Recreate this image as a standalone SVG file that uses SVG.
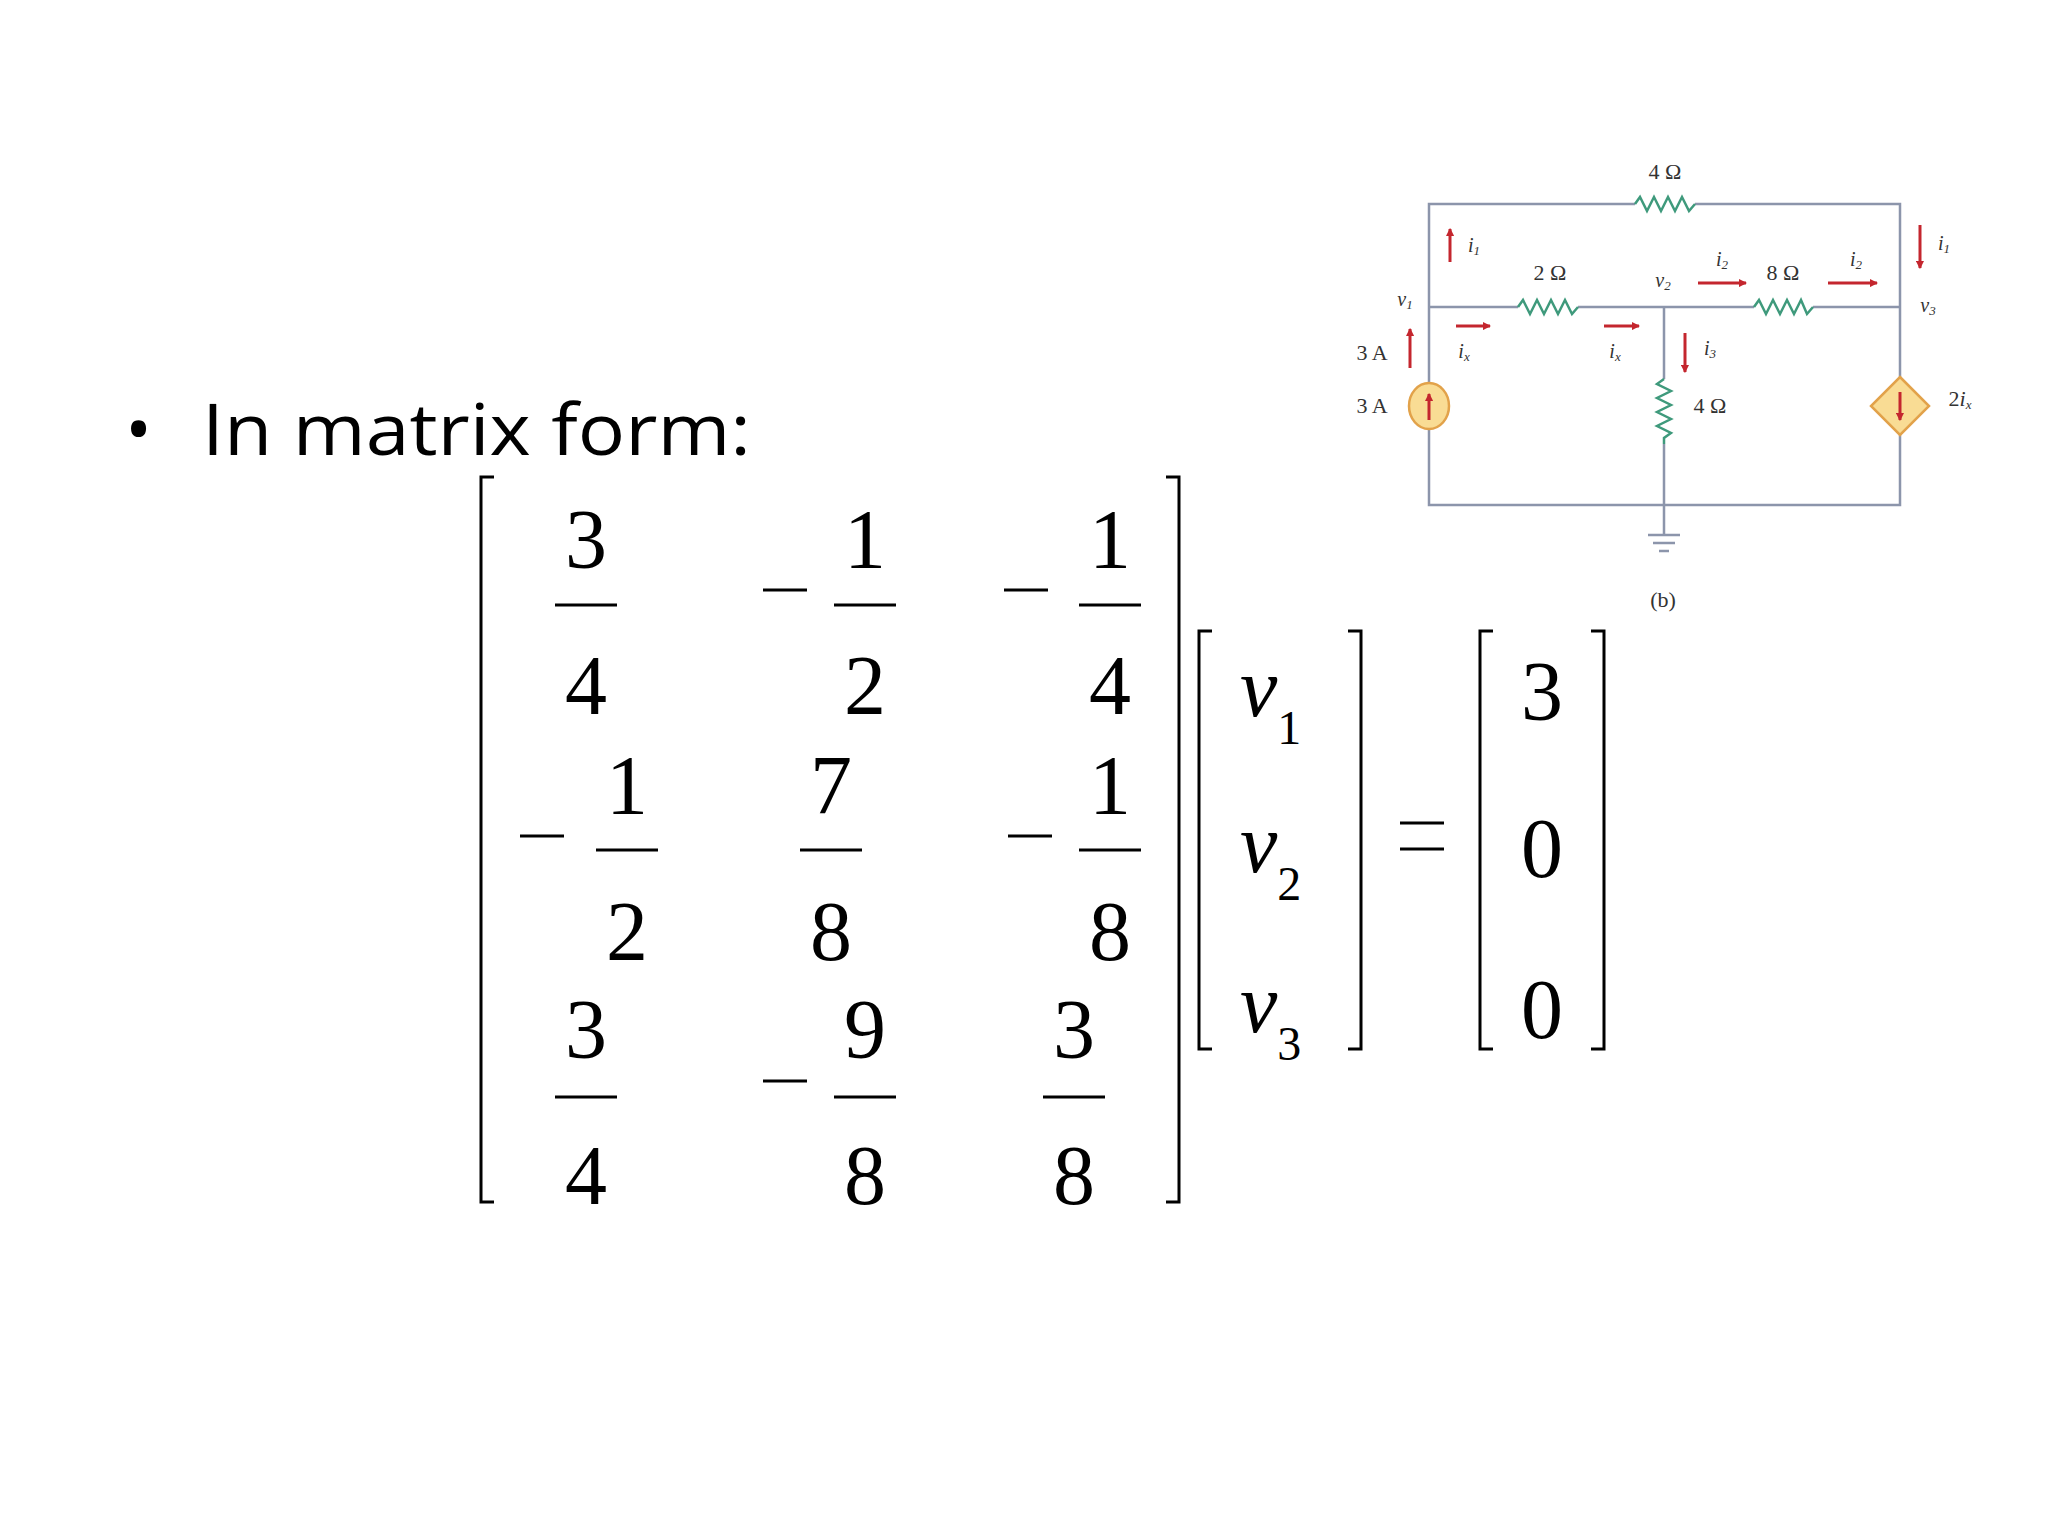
<svg xmlns="http://www.w3.org/2000/svg" width="2048" height="1536" viewBox="0 0 2048 1536">
<style>
.w{fill:none;stroke:#8c95ab;stroke-width:2.5}
.r{fill:none;stroke:#3f9a7c;stroke-width:2.5}
.a{stroke:#c4262e;stroke-width:3}
.cl{font-family:"Liberation Serif",serif;font-size:22px;fill:#333;text-anchor:middle}
.ci{font-family:"Liberation Serif",serif;font-style:italic;font-size:20px;fill:#333;text-anchor:middle}
.m{font-family:"Liberation Serif",serif;font-size:84px;fill:#000;text-anchor:middle}
.v{font-family:"Liberation Serif",serif;font-style:italic;font-size:84px;fill:#000}
.s{font-family:"Liberation Serif",serif;font-size:48px;fill:#000}
.b{fill:none;stroke:#000;stroke-width:3}
.bar{stroke:#000;stroke-width:3}
</style>
<defs>
<marker id="ah" markerWidth="8" markerHeight="8" refX="7" refY="4" orient="auto" markerUnits="userSpaceOnUse"><path d="M0,0 L8,4 L0,8 Z" fill="#c4262e" transform="scale(1.5) translate(-2.6,-1.3)"/></marker>
</defs>
<rect width="2048" height="1536" fill="#fff"/>
<g id="title">
<text x="125" y="455" font-family="'Open Sans',sans-serif" font-size="72" fill="#000">•</text>
<text x="202" y="455" font-family="'Open Sans',sans-serif" font-size="72" fill="#000" textLength="549" lengthAdjust="spacingAndGlyphs">In matrix form:</text>
</g>
<g id="circuit">
<g id="wires">
<path class="w" d="M1429,383 V204 H1635 M1695,204 H1900 V377 M1429,307 H1518 M1578,307 H1754 M1813,307 H1900 M1664,307 V379 M1664,444 V535 M1429,429 V505 H1900 V435"/>
<path class="w" d="M1648,535 H1680 M1653,543 H1675 M1659,551 H1669"/>
</g>
<g id="resistors">
<path class="r" d="M1635,204 l5,-7 l7,14 l7,-14 l7,14 l7,-14 l7,14 l7,-14 l7,14 l6,-7"/>
<path class="r" d="M1518,307 l5,-7 l7,14 l7,-14 l7,14 l7,-14 l7,14 l7,-14 l7,14 l6,-7"/>
<path class="r" d="M1754,307 l5,-7 l7,14 l7,-14 l7,14 l7,-14 l7,14 l7,-14 l6,14 l6,-7"/>
<path class="r" d="M1664,379 l-7,5 l14,7 l-14,7 l14,7 l-14,7 l14,7 l-14,7 l14,7 l-7,5 v6"/>
</g>
<g id="sources">
<ellipse cx="1429" cy="406" rx="20" ry="23" fill="#f9dc94" stroke="#e2a24a" stroke-width="2.5"/>
<line class="a" x1="1429" y1="420" x2="1429" y2="394" marker-end="url(#ah)"/>
<path d="M1900,377 L1929,406 L1900,435 L1871,406 Z" fill="#f9dc94" stroke="#e2a24a" stroke-width="2.5"/>
<line class="a" x1="1900" y1="392" x2="1900" y2="420" marker-end="url(#ah)"/>
</g>
<g id="arrows">
<line class="a" x1="1450" y1="262" x2="1450" y2="229" marker-end="url(#ah)"/>
<line class="a" x1="1410" y1="368" x2="1410" y2="329" marker-end="url(#ah)"/>
<line class="a" x1="1456" y1="326" x2="1490" y2="326" marker-end="url(#ah)"/>
<line class="a" x1="1604" y1="326" x2="1639" y2="326" marker-end="url(#ah)"/>
<line class="a" x1="1685" y1="333" x2="1685" y2="372" marker-end="url(#ah)"/>
<line class="a" x1="1698" y1="283" x2="1746" y2="283" marker-end="url(#ah)"/>
<line class="a" x1="1828" y1="283" x2="1877" y2="283" marker-end="url(#ah)"/>
<line class="a" x1="1920" y1="225" x2="1920" y2="268" marker-end="url(#ah)"/>
</g>
<g id="labels">
<text class="cl" x="1665" y="179">4 Ω</text>
<text class="cl" x="1550" y="280">2 Ω</text>
<text class="cl" x="1783" y="280">8 Ω</text>
<text class="cl" x="1710" y="413">4 Ω</text>
<text class="cl" x="1372" y="360">3 A</text>
<text class="cl" x="1372" y="413">3 A</text>
<text class="ci" x="1405" y="306">v<tspan font-size="13" dy="3">1</tspan></text>
<text class="ci" x="1663" y="287">v<tspan font-size="13" dy="3">2</tspan></text>
<text class="ci" x="1928" y="312">v<tspan font-size="13" dy="3">3</tspan></text>
<text class="ci" x="1474" y="252">i<tspan font-size="13" dy="3">1</tspan></text>
<text class="ci" x="1944" y="250">i<tspan font-size="13" dy="3">1</tspan></text>
<text class="ci" x="1722" y="266">i<tspan font-size="13" dy="3">2</tspan></text>
<text class="ci" x="1856" y="266">i<tspan font-size="13" dy="3">2</tspan></text>
<text class="ci" x="1710" y="355">i<tspan font-size="13" dy="3">3</tspan></text>
<text class="ci" x="1464" y="358">i<tspan font-size="13" dy="3">x</tspan></text>
<text class="ci" x="1615" y="358">i<tspan font-size="13" dy="3">x</tspan></text>
<text class="cl" x="1960" y="406">2<tspan font-style="italic">i</tspan><tspan font-size="13" dy="3" font-style="italic">x</tspan></text>
<text class="cl" x="1663" y="607" font-size="20">(b)</text>
</g>
</g>
<g id="matrixA">
<path class="b" d="M494,477 H481 V1202 H494"/>
<path class="b" d="M1166,477 H1179 V1202 H1166"/>
<text class="m" x="586" y="568">3</text><line class="bar" x1="555" y1="605" x2="617" y2="605"/><text class="m" x="586" y="714">4</text>
<line class="bar" x1="763" y1="590" x2="807" y2="590"/>
<text class="m" x="865" y="568">1</text><line class="bar" x1="834" y1="605" x2="896" y2="605"/><text class="m" x="865" y="714">2</text>
<line class="bar" x1="1004" y1="590" x2="1048" y2="590"/>
<text class="m" x="1110" y="568">1</text><line class="bar" x1="1079" y1="605" x2="1141" y2="605"/><text class="m" x="1110" y="714">4</text>
<line class="bar" x1="520" y1="836" x2="564" y2="836"/>
<text class="m" x="627" y="814">1</text><line class="bar" x1="596" y1="850" x2="658" y2="850"/><text class="m" x="627" y="960">2</text>
<text class="m" x="831" y="814">7</text><line class="bar" x1="800" y1="850" x2="862" y2="850"/><text class="m" x="831" y="960">8</text>
<line class="bar" x1="1008" y1="836" x2="1052" y2="836"/>
<text class="m" x="1110" y="814">1</text><line class="bar" x1="1079" y1="850" x2="1141" y2="850"/><text class="m" x="1110" y="960">8</text>
<text class="m" x="586" y="1058">3</text><line class="bar" x1="555" y1="1097" x2="617" y2="1097"/><text class="m" x="586" y="1204">4</text>
<line class="bar" x1="763" y1="1081" x2="807" y2="1081"/>
<text class="m" x="865" y="1058">9</text><line class="bar" x1="834" y1="1097" x2="896" y2="1097"/><text class="m" x="865" y="1204">8</text>
<text class="m" x="1074" y="1058">3</text><line class="bar" x1="1043" y1="1097" x2="1105" y2="1097"/><text class="m" x="1074" y="1204">8</text>
</g>
<g id="vectorV">
<path class="b" d="M1212,631 H1199 V1049 H1212"/>
<path class="b" d="M1348,631 H1361 V1049 H1348"/>
<text class="v" x="1240" y="716">v<tspan class="s" font-style="normal" dy="28">1</tspan></text>
<text class="v" x="1240" y="872">v<tspan class="s" font-style="normal" dy="28">2</tspan></text>
<text class="v" x="1240" y="1032">v<tspan class="s" font-style="normal" dy="28">3</tspan></text>
</g>
<g id="equals">
<line class="bar" x1="1400" y1="823" x2="1444" y2="823"/>
<line class="bar" x1="1400" y1="849" x2="1444" y2="849"/>
</g>
<g id="vectorB">
<path class="b" d="M1493,631 H1480 V1049 H1493"/>
<path class="b" d="M1591,631 H1604 V1049 H1591"/>
<text class="m" x="1542" y="720">3</text>
<text class="m" x="1542" y="877">0</text>
<text class="m" x="1542" y="1038">0</text>
</g>
</svg>
